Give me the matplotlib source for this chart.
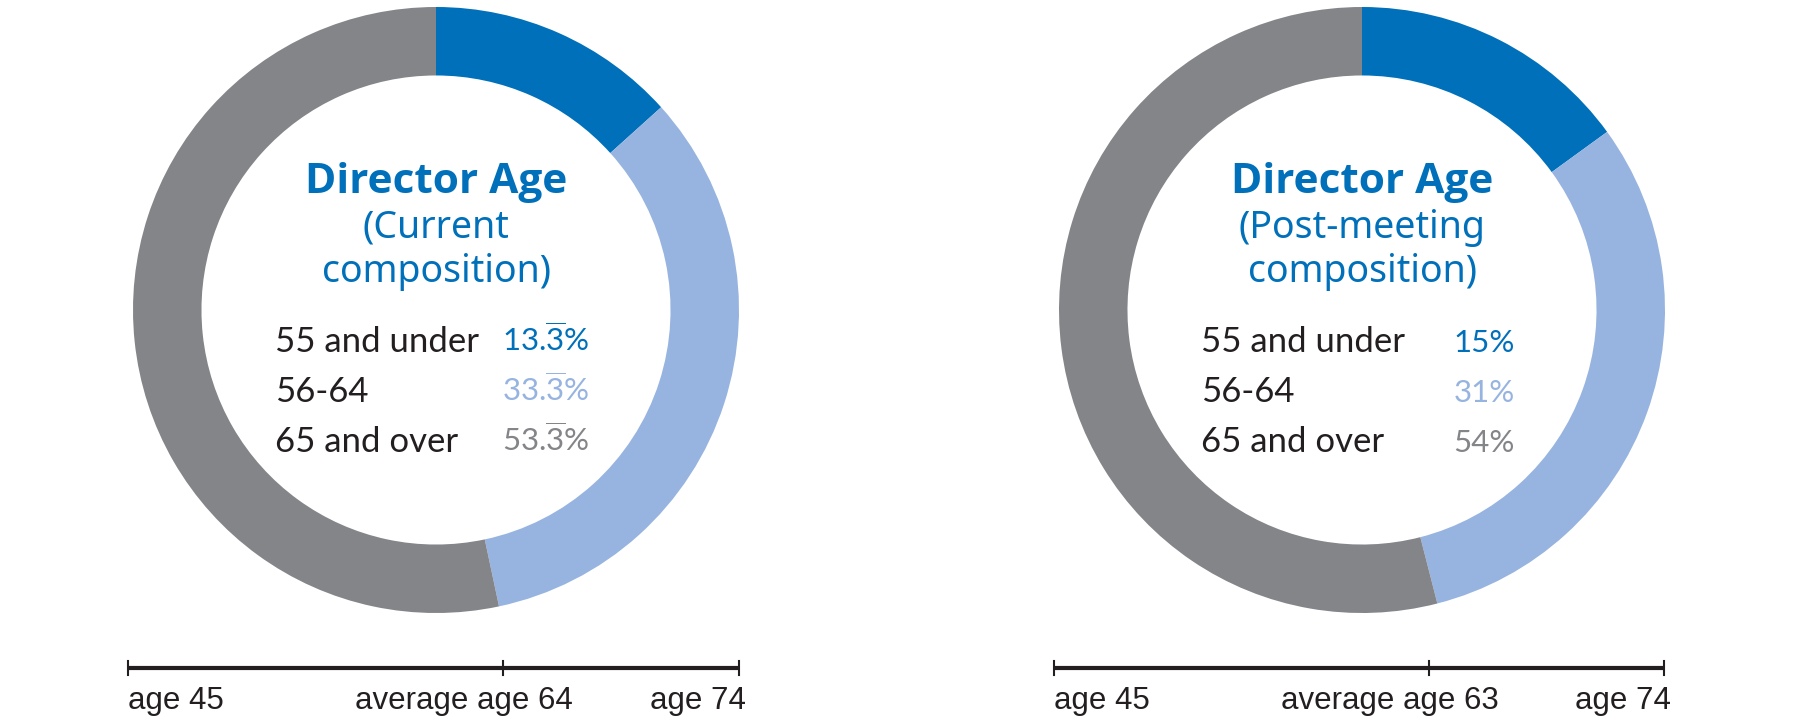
import matplotlib
matplotlib.use("Agg")
import matplotlib.pyplot as plt

# data
groups = ["55 and under", "56-64", "65 and over"]
current_share = [13.333, 33.333, 53.333]
post_share = [15, 31, 54]
current_labels = [r"13.$\overline{\mathrm{3}}$%", r"33.$\overline{\mathrm{3}}$%", r"53.$\overline{\mathrm{3}}$%"]
post_labels = ["15%", "31%", "54%"]
subtitles = [["(Current", "composition)"], ["(Post-meeting", "composition)"]]
age_min = [45, 45]
age_max = [74, 74]
age_avg = [64, 63]

colors = ["#0070BA", "#97B4E0", "#848589"]
txt_dark = "#231F20"

plt.rcParams["mathtext.fontset"] = "custom"
plt.rcParams["mathtext.rm"] = "Lato"

W, H = 1800, 716
fig = plt.figure(figsize=(18, 7.16), dpi=100)

centers = [436, 1362]   # donut centres in px
cy = 310
R = 303

panels = [(current_share, current_labels), (post_share, post_labels)]

for k, (shares, labels) in enumerate(panels):
    cx = centers[k]
    ax = fig.add_axes([(cx - R) / W, (H - cy - R) / H, 2 * R / W, 2 * R / H])
    ax.pie(shares, colors=colors, startangle=90, counterclock=False, radius=1,
           wedgeprops=dict(width=0.226, edgecolor="none", linewidth=0))
    ax.set_xlim(-1, 1)
    ax.set_ylim(-1, 1)
    ax.set_aspect("auto")
    ax.axis("off")

    ax.text(0, 0.386, "Director Age", ha="center", va="baseline", fontsize=30.5,
            fontweight="bold", family="Open Sans", color=colors[0])
    ax.text(0, 0.238, subtitles[k][0], ha="center", va="baseline", fontsize=27,
            family="Noto Sans", color=colors[0])
    ax.text(0, 0.092, subtitles[k][1], ha="center", va="baseline", fontsize=27,
            family="Noto Sans", color=colors[0])

    rows = [-0.139, -0.304, -0.469]
    for i in range(3):
        ax.text(-0.53, rows[i], groups[i], ha="left", va="baseline", fontsize=25,
                family="Lato", color=txt_dark)
        ax.text(0.505, rows[i], labels[i], ha="right", va="baseline", fontsize=22.5,
                family="Lato", color=colors[i])

# age scale under each donut
line_left = [128, 1054]
line_right = [739, 1664]
tick_frac = 0.614
for k in range(2):
    x0, x1 = line_left[k], line_right[k]
    lax = fig.add_axes([x0 / W, 0, (x1 - x0) / W, 76 / H])
    lax.set_xlim(0, 1)
    lax.set_ylim(0, 76)
    lax.axis("off")
    lax.plot([0, 1], [48, 48], color=txt_dark, lw=3, solid_capstyle="butt", clip_on=False)
    for t in [0, tick_frac, 1]:
        lax.plot([t, t], [41, 55], color=txt_dark, lw=1.5, clip_on=False)
    lax.text(0, 7, "age %d" % age_min[k], ha="left", va="baseline", fontsize=22.5,
             family="Liberation Sans", color=txt_dark)
    lax.text(tick_frac - 0.064, 7, "average age %d" % age_avg[k], ha="center", va="baseline",
             fontsize=22.5, family="Liberation Sans", color=txt_dark)
    lax.text(1.012, 7, "age %d" % age_max[k], ha="right", va="baseline", fontsize=22.5,
             family="Liberation Sans", color=txt_dark)

fig.savefig("out.png", dpi=100, facecolor="white")
